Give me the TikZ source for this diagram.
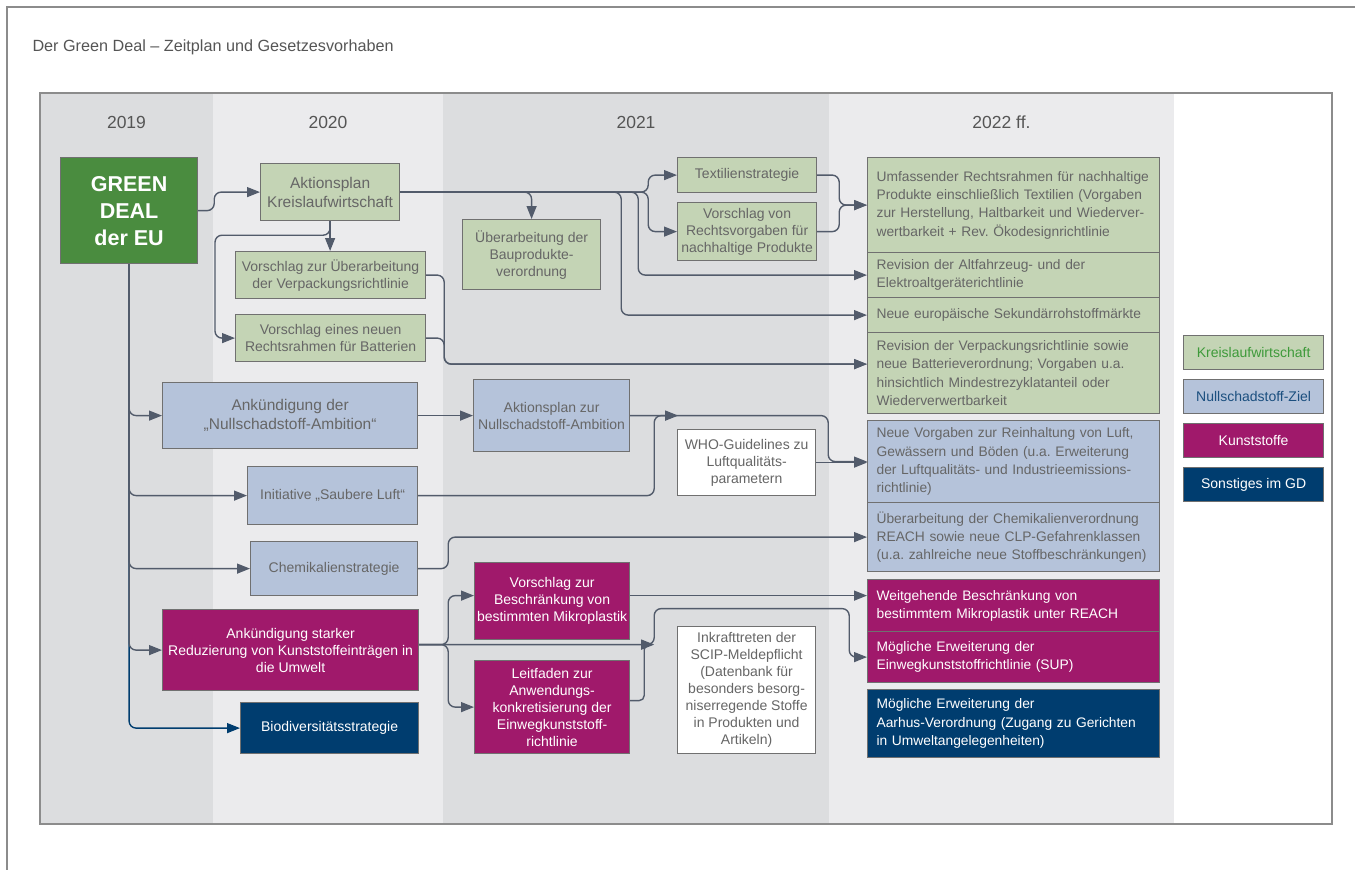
\documentclass[tikz,border=0pt]{standalone}
\usepackage{fontspec}
\setmainfont{Liberation Sans}
\usetikzlibrary{arrows.meta}
\frenchspacing

\definecolor{colD}{HTML}{DCDDDF}
\definecolor{colL}{HTML}{EBEBED}
\definecolor{framec}{HTML}{8C8C8C}
\definecolor{boxline}{HTML}{707070}
\definecolor{txtgray}{HTML}{666666}
\definecolor{hdgray}{HTML}{555555}
\definecolor{lineC}{HTML}{525B6B}
\definecolor{kwgreen}{HTML}{C4D4B5}
\definecolor{nsblue}{HTML}{B5C3DA}
\definecolor{ksmag}{HTML}{A0196B}
\definecolor{gdnavy}{HTML}{003D6F}
\definecolor{gddeal}{HTML}{4A8C3F}
\definecolor{kwtext}{HTML}{3E9A3A}
\definecolor{nstext}{HTML}{1B4F7F}

\tikzset{
  tbox/.style={draw=boxline, line width=1.2pt, inner sep=0pt, anchor=north west,
    align=center, text=txtgray, font=\fontsize{14}{17}\selectfont},
  kwbox/.style={tbox, fill=kwgreen},
  nsbox/.style={tbox, fill=nsblue},
  ksbox/.style={tbox, fill=ksmag, text=white},
  sobox/.style={tbox, fill=gdnavy, text=white},
  wbox/.style={tbox, fill=white},
  rbox/.style={text width=284pt, minimum width=292pt, align=left,
    font=\fontsize{13.8}{18.3}\selectfont, execute at begin node={\leftskip=5pt\relax}},
  legbox/.style={tbox, minimum width=140pt, minimum height=34pt},
  conn/.style={draw=lineC, line width=1.4pt, rounded corners=7pt,
    -{Triangle[length=13pt,width=10pt]}},
}

\begin{document}
\begin{tikzpicture}[x=1pt, y=-1pt]
    \useasboundingbox (0,0) rectangle (1355,870);
    %frame and columns
    \draw[framec, line width=1.5pt] (7,870) -- (7,7) -- (1355,7);
    \node[anchor=west, text=hdgray, font=\fontsize{16.2}{19}\selectfont] (title) at (29,47)
        {Der Green Deal – Zeitplan und Gesetzesvorhaben};
    \foreach \xa/\xb/\col/\yr in {40/213/colD/2019, 213/443/colL/2020, 443/829/colD/2021, 829/1174/colL/2022 ff.}
        {%
            \fill[\col] (\xa,93) rectangle (\xb,824);
            \node[text=hdgray, font=\fontsize{17.5}{20}\selectfont] at ({(\xa+\xb)/2},122) {\yr};
        }
    \draw[framec, line width=1.3pt] (40,93) rectangle (1332,824);

    %2019
    \node[tbox, fill=gddeal, text=white, minimum width=137pt, minimum height=106pt,
        font=\bfseries\fontsize{21.5}{27}\selectfont] (gd) at (60,157) {GREEN\\DEAL\\der EU};

    %2020
    \node[kwbox, minimum width=139pt, minimum height=57pt, font=\fontsize{15.5}{19}\selectfont] (akp) at (260,163)
        {Aktionsplan\\Kreislaufwirtschaft};
    \node[kwbox, minimum width=190pt, minimum height=47pt] (vpk) at (235,251)
        {Vorschlag zur Überarbeitung\\der Verpackungsrichtlinie};
    \node[kwbox, minimum width=190pt, minimum height=47pt] (bat) at (235,314)
        {Vorschlag eines neuen\\Rechtsrahmen für Batterien};
    \node[nsbox, minimum width=255pt, minimum height=66pt, font=\fontsize{15.5}{19}\selectfont] (ank) at (162,382)
        {Ankündigung der\\„Nullschadstoff-Ambition“};
    \node[nsbox, minimum width=170pt, minimum height=58pt] (luft) at (247,466)
        {Initiative „Saubere Luft“};
    \node[nsbox, minimum width=167pt, minimum height=54pt] (chem) at (250,541)
        {Chemikalienstrategie};
    \node[ksbox, minimum width=256pt, minimum height=81pt] (kst) at (162,609)
        {Ankündigung starker\\Reduzierung von Kunststoffeinträgen in\\die Umwelt};
    \node[sobox, minimum width=178pt, minimum height=51pt] (bio) at (240,702)
        {Biodiversitätsstrategie};

    %2021
    \node[kwbox, minimum width=138pt, minimum height=70pt] (bau) at (462,219)
        {Überarbeitung der\\Bauprodukte-\\verordnung};
    \node[kwbox, minimum width=139pt, minimum height=35pt] (tex) at (677,157)
        {Textilienstrategie};
    \node[kwbox, minimum width=139pt, minimum height=58pt] (nhp) at (677,202)
        {Vorschlag von\\Rechtsvorgaben für\\nachhaltige Produkte};
    \node[nsbox, minimum width=156pt, minimum height=72pt] (azn) at (473,379)
        {Aktionsplan zur\\Nullschadstoff-Ambition};
    \node[wbox, minimum width=138pt, minimum height=66pt] (who) at (677,429)
        {WHO-Guidelines zu\\Luftqualitäts-\\parametern};
    \node[ksbox, minimum width=155pt, minimum height=77pt] (mik) at (474,562)
        {Vorschlag zur\\Beschränkung von\\bestimmten Mikroplastik};
    \node[ksbox, minimum width=155pt, minimum height=93pt] (leit) at (474,660)
        {Leitfaden zur\\Anwendungs-\\konkretisierung der\\Einwegkunststoff-\\richtlinie};
    \node[wbox, minimum width=138pt, minimum height=127pt] (scip) at (677,626)
        {Inkrafttreten der\\SCIP-Meldepflicht\\(Datenbank für\\besonders besorg-\\niserregende Stoffe\\in Produkten und\\Artikeln)};

    %2022 ff.
    \node[kwbox, rbox, minimum height=95pt] (r1) at (867,157)
        {Umfassender Rechtsrahmen für nachhaltige\\Produkte einschließlich Textilien (Vorgaben\\zur Herstellung, Haltbarkeit und Wiederver-\\wertbarkeit + Rev. Ökodesignrichtlinie};
    \node[kwbox, rbox, minimum height=45pt] (r2) at (867,252)
        {Revision der Altfahrzeug- und der\\Elektroaltgeräterichtlinie};
    \node[kwbox, rbox, minimum height=35pt] (r3) at (867,297)
        {Neue europäische Sekundärrohstoffmärkte};
    \node[kwbox, rbox, minimum height=81pt] (r4) at (867,332)
        {Revision der Verpackungsrichtlinie sowie\\neue Batterieverordnung; Vorgaben u.a.\\hinsichtlich Mindestrezyklatanteil oder\\Wiederverwertbarkeit};
    \node[nsbox, rbox, minimum height=82pt] (r5) at (867,420)
        {Neue Vorgaben zur Reinhaltung von Luft,\\Gewässern und Böden (u.a. Erweiterung\\der Luftqualitäts- und Industrieemissions-\\richtlinie)};
    \node[nsbox, rbox, minimum height=69pt] (r6) at (867,502)
        {Überarbeitung der Chemikalienverordnung\\REACH sowie neue CLP-Gefahrenklassen\\(u.a. zahlreiche neue Stoffbeschränkungen)};
    \node[ksbox, rbox, minimum height=52pt] (r7) at (867,579)
        {Weitgehende Beschränkung von\\bestimmtem Mikroplastik unter REACH};
    \node[ksbox, rbox, minimum height=51pt] (r8) at (867,631)
        {Mögliche Erweiterung der\\Einwegkunststoffrichtlinie (SUP)};
    \node[sobox, rbox, minimum height=68pt] (r9) at (867,689)
        {Mögliche Erweiterung der\\Aarhus-Verordnung (Zugang zu Gerichten\\in Umweltangelegenheiten)};

    %legend
    \node[legbox, fill=kwgreen, text=kwtext] (lg1) at (1183,335) {Kreislaufwirtschaft};
    \node[legbox, fill=nsblue, text=nstext] (lg2) at (1183,379) {Nullschadstoff-Ziel};
    \node[legbox, fill=ksmag, text=white] (lg3) at (1183,423) {Kunststoffe};
    \node[legbox, fill=gdnavy, text=white] (lg4) at (1183,467) {Sonstiges im GD};

    %connectors
    \coordinate (kstout) at ([yshift=5.5pt]kst.east);
    \coordinate (kstjoin) at ([xshift=235pt]kstout);
    \coordinate (luftjoin) at ([xshift=48pt]azn.east);
    \draw[conn, draw=gdnavy] (gd.south) |- (bio.west);
    \foreach \t in {ank,luft,chem,kst}
        {%
            \draw[conn] (gd.south) |- (\t.west);
        }
    \draw[conn] (gd.east) -- ++(16,0) |- (akp.west);
    \draw[conn] (akp.south) -- (akp.south |- vpk.north);
    \draw[conn] (akp.south) -- ++(0,14) -| ([xshift=-20pt]bat.west) -- (bat.west);
    \draw[conn] (akp.east) -| (bau.north);
    \draw[conn] (akp.east) -- ++(248,0) |- (tex.west);
    \draw[conn] (akp.east) -- ++(248,0) |- (nhp.west);
    \draw[conn] (akp.east) -- ++(238,0) |- (r2.west);
    \draw[conn] (akp.east) -- ++(221,0) |- (r3.west);
    \draw[conn] (tex.east) -- ++(22,0) |- (r1.west);
    \draw[conn] (nhp.east) -- ++(22,0) |- (r1.west);
    \draw[conn] (vpk.east) -- ++(18,0) |- ([yshift=9pt]r4.west);
    \draw[conn] (bat.east) -- ++(18,0) |- ([yshift=9pt]r4.west);
    \draw[conn] (ank.east) -- (azn.west);
    \draw[conn] (azn.east) -- ++(198,0) |- (r5.west);
    \draw[conn] (luft.east) -- ++(236,0) |- (luftjoin);
    \draw[conn] (who.east) -- (who.east -| r5.west);
    \draw[conn] (chem.east) -- ++(30,0) |- (r6.west);
    \draw[conn] (kstout) -- ++(29,0) |- ([yshift=5.5pt]mik.west);
    \draw[conn] (kstout) -- ++(29,0) |- (leit.west);
    \draw[conn] ([yshift=5.5pt]mik.east) -- ([yshift=5.5pt]mik.east -| r7.west);
    \draw[conn] (kstout) -- (kstjoin) |- ++(195,-36) |- (r8.west);
    \draw[conn, rounded corners=5pt] ([yshift=6.5pt]leit.east) -- ++(14,0) |- (kstjoin);
\end{tikzpicture}
\end{document}
